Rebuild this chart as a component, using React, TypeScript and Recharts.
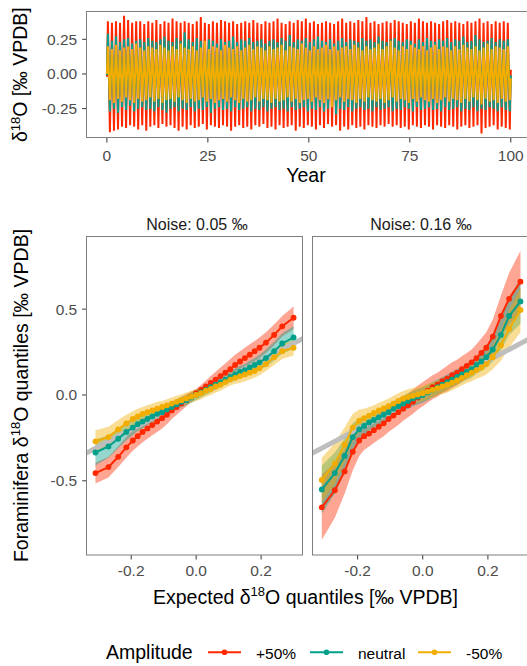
import React from 'react';
import { ComposedChart, LineChart, Line, Area, XAxis, YAxis } from 'recharts';

// colours (Darjeeling-like palette)
const RED = '#FF2800';
const TEAL = '#00A08A';
const YELLOW = '#F2AD00';
const FONT = '"Liberation Sans", Arial, sans-serif';

// ---- top panel: yearly cycle, peak and trough of every year ----
const redHi = [
  0.38, 0.37, 0.38, 0.37, 0.42, 0.39, 0.37, 0.38, 0.38, 0.36,
  0.38, 0.37, 0.39, 0.36, 0.38, 0.37, 0.40, 0.38, 0.37, 0.38,
  0.37, 0.36, 0.38, 0.41, 0.37, 0.36, 0.38, 0.37, 0.39, 0.38,
  0.37, 0.38, 0.36, 0.37, 0.38, 0.37, 0.39, 0.37, 0.36, 0.38,
  0.37, 0.38, 0.40, 0.37, 0.36, 0.38, 0.37, 0.39, 0.38, 0.40,
  0.37, 0.38, 0.36, 0.37, 0.38, 0.37, 0.36, 0.38, 0.40, 0.37,
  0.38, 0.37, 0.39, 0.38, 0.41, 0.37, 0.38, 0.36, 0.37, 0.38,
  0.37, 0.39, 0.38, 0.37, 0.36, 0.38, 0.37, 0.40, 0.38, 0.37,
  0.38, 0.37, 0.36, 0.38, 0.39, 0.37, 0.38, 0.37, 0.36, 0.38,
  0.37, 0.38, 0.40, 0.37, 0.38, 0.36, 0.38, 0.37, 0.38, 0.37,
];
const redLo = [
  -0.42, -0.41, -0.40, -0.38, -0.39, -0.37, -0.38, -0.40, -0.37, -0.41,
  -0.38, -0.37, -0.39, -0.36, -0.38, -0.37, -0.39, -0.41, -0.38, -0.40,
  -0.37, -0.39, -0.38, -0.36, -0.40, -0.37, -0.38, -0.39, -0.37, -0.38,
  -0.41, -0.38, -0.37, -0.39, -0.38, -0.40, -0.37, -0.38, -0.36, -0.39,
  -0.38, -0.40, -0.37, -0.39, -0.38, -0.37, -0.41, -0.38, -0.39, -0.37,
  -0.38, -0.40, -0.37, -0.39, -0.36, -0.38, -0.37, -0.41, -0.38, -0.40,
  -0.37, -0.39, -0.38, -0.40, -0.37, -0.38, -0.39, -0.37, -0.38, -0.36,
  -0.38, -0.37, -0.39, -0.38, -0.40, -0.37, -0.38, -0.39, -0.37, -0.38,
  -0.40, -0.37, -0.38, -0.39, -0.37, -0.38, -0.40, -0.38, -0.37, -0.39,
  -0.38, -0.37, -0.43, -0.39, -0.38, -0.37, -0.40, -0.38, -0.39, -0.40,
];
const tealHi = [
  0.29, 0.24, 0.27, 0.23, 0.25, 0.26, 0.22, 0.24, 0.25, 0.23,
  0.26, 0.24, 0.23, 0.25, 0.27, 0.24, 0.23, 0.26, 0.24, 0.30,
  0.25, 0.23, 0.26, 0.24, 0.23, 0.25, 0.24, 0.22, 0.25, 0.23,
  0.24, 0.27, 0.23, 0.25, 0.24, 0.26, 0.23, 0.24, 0.25, 0.22,
  0.24, 0.25, 0.23, 0.26, 0.24, 0.28, 0.23, 0.25, 0.24, 0.26,
  0.23, 0.25, 0.27, 0.24, 0.23, 0.25, 0.22, 0.24, 0.26, 0.23,
  0.25, 0.24, 0.23, 0.26, 0.24, 0.25, 0.23, 0.27, 0.24, 0.23,
  0.25, 0.26, 0.24, 0.23, 0.25, 0.24, 0.22, 0.25, 0.23, 0.26,
  0.24, 0.23, 0.25, 0.24, 0.26, 0.23, 0.25, 0.24, 0.27, 0.23,
  0.24, 0.28, 0.25, 0.23, 0.24, 0.26, 0.23, 0.25, 0.24, 0.25,
];
const tealLo = [
  -0.27, -0.25, -0.28, -0.24, -0.26, -0.23, -0.27, -0.25, -0.24, -0.26,
  -0.25, -0.27, -0.24, -0.26, -0.28, -0.25, -0.24, -0.27, -0.25, -0.26,
  -0.24, -0.27, -0.25, -0.26, -0.24, -0.28, -0.25, -0.24, -0.26, -0.25,
  -0.27, -0.24, -0.26, -0.25, -0.24, -0.27, -0.25, -0.26, -0.24, -0.27,
  -0.25, -0.24, -0.26, -0.25, -0.27, -0.24, -0.26, -0.25, -0.24, -0.27,
  -0.25, -0.26, -0.24, -0.27, -0.25, -0.24, -0.29, -0.25, -0.26, -0.24,
  -0.27, -0.25, -0.24, -0.26, -0.25, -0.27, -0.24, -0.26, -0.25, -0.24,
  -0.27, -0.25, -0.26, -0.24, -0.25, -0.27, -0.24, -0.26, -0.25, -0.24,
  -0.26, -0.25, -0.27, -0.24, -0.26, -0.25, -0.24, -0.27, -0.25, -0.26,
  -0.24, -0.27, -0.25, -0.26, -0.24, -0.25, -0.27, -0.24, -0.26, -0.27,
];
const yellowHi = [
  0.20, 0.18, 0.21, 0.17, 0.19, 0.20, 0.18, 0.22, 0.19, 0.17,
  0.20, 0.19, 0.18, 0.21, 0.19, 0.17, 0.20, 0.18, 0.22, 0.19,
  0.18, 0.20, 0.17, 0.19, 0.24, 0.18, 0.20, 0.19, 0.17, 0.21,
  0.19, 0.18, 0.20, 0.17, 0.19, 0.21, 0.18, 0.20, 0.19, 0.17,
  0.20, 0.18, 0.19, 0.21, 0.17, 0.20, 0.19, 0.18, 0.22, 0.19,
  0.17, 0.20, 0.18, 0.19, 0.21, 0.18, 0.20, 0.17, 0.19, 0.20,
  0.18, 0.21, 0.19, 0.17, 0.20, 0.18, 0.19, 0.22, 0.18, 0.20,
  0.24, 0.19, 0.17, 0.20, 0.18, 0.21, 0.19, 0.18, 0.20, 0.17,
  0.19, 0.21, 0.18, 0.20, 0.19, 0.17, 0.20, 0.18, 0.21, 0.19,
  0.18, 0.20, 0.17, 0.19, 0.22, 0.18, 0.20, 0.19, 0.18, 0.20,
];
const yellowLo = [
  -0.19, -0.21, -0.18, -0.20, -0.17, -0.19, -0.21, -0.18, -0.20, -0.19,
  -0.17, -0.20, -0.18, -0.21, -0.19, -0.18, -0.20, -0.17, -0.19, -0.21,
  -0.18, -0.20, -0.19, -0.17, -0.20, -0.18, -0.21, -0.19, -0.18, -0.20,
  -0.17, -0.19, -0.21, -0.18, -0.20, -0.19, -0.17, -0.20, -0.18, -0.19,
  -0.21, -0.18, -0.20, -0.19, -0.17, -0.20, -0.18, -0.21, -0.19, -0.18,
  -0.20, -0.17, -0.19, -0.21, -0.18, -0.24, -0.19, -0.17, -0.20, -0.18,
  -0.19, -0.21, -0.18, -0.20, -0.17, -0.19, -0.20, -0.18, -0.21, -0.19,
  -0.17, -0.20, -0.18, -0.19, -0.21, -0.18, -0.20, -0.17, -0.19, -0.20,
  -0.18, -0.21, -0.19, -0.17, -0.20, -0.18, -0.19, -0.21, -0.18, -0.20,
  -0.17, -0.19, -0.22, -0.18, -0.20, -0.19, -0.21, -0.18, -0.20, -0.19,
];
// first (year 0) and last (year 100) values: red, teal, yellow
const startVals = [-0.02, -0.01, 0.0];
const endVals = [0.03, -0.01, -0.03];

// ---- bottom panels: expected quantiles vs foraminifera quantiles ----
const qx = [
  -0.31, -0.27, -0.24, -0.215, -0.195, -0.18, -0.165, -0.15, -0.135, -0.12, -0.105, -0.09,
  -0.075, -0.06, -0.045, -0.03, -0.015, 0, 0.015, 0.03, 0.045, 0.06, 0.075, 0.09, 0.105,
  0.12, 0.135, 0.15, 0.165, 0.18, 0.195, 0.215, 0.24, 0.265, 0.3,
];
// noise 0.05
const redQ1 = [
  -0.455, -0.42, -0.36, -0.305, -0.265, -0.24, -0.215, -0.195, -0.175, -0.155, -0.135, -0.115,
  -0.09, -0.07, -0.05, -0.03, -0.01, 0.01, 0.03, 0.05, 0.07, 0.09, 0.11, 0.13, 0.15,
  0.175, 0.195, 0.215, 0.235, 0.255, 0.275, 0.305, 0.35, 0.4, 0.45,
];
const tealQ1 = [
  -0.335, -0.3, -0.255, -0.215, -0.19, -0.17, -0.155, -0.14, -0.125, -0.11, -0.1, -0.085,
  -0.07, -0.055, -0.04, -0.03, -0.015, 0, 0.015, 0.03, 0.045, 0.06, 0.075, 0.09, 0.105,
  0.12, 0.135, 0.145, 0.16, 0.175, 0.19, 0.215, 0.255, 0.3, 0.335,
];
const yellowQ1 = [
  -0.27, -0.245, -0.2, -0.165, -0.14, -0.125, -0.11, -0.1, -0.09, -0.08, -0.07, -0.06,
  -0.05, -0.04, -0.03, -0.02, -0.01, 0, 0.01, 0.025, 0.035, 0.05, 0.06, 0.075, 0.09,
  0.1, 0.11, 0.12, 0.13, 0.14, 0.155, 0.18, 0.22, 0.255, 0.275,
];
const redBand1 = [
  0.06, 0.06, 0.06, 0.06, 0.06, 0.06, 0.06, 0.06, 0.06, 0.06, 0.06, 0.055,
  0.05, 0.045, 0.04, 0.035, 0.03, 0.025, 0.03, 0.035, 0.04, 0.045, 0.05, 0.055, 0.06,
  0.06, 0.06, 0.06, 0.06, 0.06, 0.06, 0.06, 0.06, 0.06, 0.065,
];
const tealBand1 = [
  0.075, 0.065, 0.055, 0.05, 0.045, 0.04, 0.04, 0.035, 0.035, 0.035, 0.03, 0.03,
  0.03, 0.03, 0.03, 0.03, 0.03, 0.03, 0.03, 0.03, 0.03, 0.03, 0.03, 0.03, 0.03,
  0.035, 0.035, 0.035, 0.04, 0.04, 0.045, 0.05, 0.055, 0.06, 0.065,
];
const yellowBand1 = [
  0.065, 0.06, 0.055, 0.05, 0.045, 0.045, 0.04, 0.04, 0.04, 0.04, 0.035, 0.035,
  0.035, 0.035, 0.035, 0.035, 0.035, 0.035, 0.035, 0.035, 0.035, 0.035, 0.035, 0.035, 0.035,
  0.035, 0.04, 0.04, 0.04, 0.04, 0.04, 0.04, 0.045, 0.045, 0.045,
];
// noise 0.16
const redQ2 = [
  -0.655, -0.555, -0.445, -0.33, -0.265, -0.24, -0.225, -0.205, -0.185, -0.165, -0.14, -0.12,
  -0.1, -0.08, -0.06, -0.04, -0.015, 0.005, 0.025, 0.045, 0.06, 0.08, 0.095, 0.115, 0.13,
  0.15, 0.17, 0.19, 0.215, 0.245, 0.275, 0.34, 0.46, 0.56, 0.66,
];
const tealQ2 = [
  -0.55, -0.455, -0.355, -0.245, -0.2, -0.18, -0.16, -0.145, -0.13, -0.115, -0.1, -0.08,
  -0.065, -0.05, -0.035, -0.02, -0.01, 0, 0.015, 0.03, 0.045, 0.06, 0.075, 0.09, 0.105,
  0.12, 0.135, 0.15, 0.175, 0.195, 0.22, 0.265, 0.35, 0.46, 0.545,
];
const yellowQ2 = [
  -0.495, -0.4, -0.29, -0.19, -0.15, -0.135, -0.12, -0.105, -0.09, -0.078, -0.065, -0.05,
  -0.035, -0.022, -0.012, -0.005, 0.003, 0.01, 0.02, 0.03, 0.04, 0.05, 0.06, 0.072, 0.085,
  0.1, 0.115, 0.13, 0.145, 0.16, 0.18, 0.22, 0.29, 0.385, 0.495,
];
const redBand2 = [
  0.19, 0.16, 0.13, 0.11, 0.09, 0.08, 0.075, 0.075, 0.075, 0.075, 0.075, 0.075,
  0.075, 0.07, 0.07, 0.07, 0.07, 0.07, 0.07, 0.07, 0.07, 0.07, 0.075, 0.075, 0.075,
  0.075, 0.075, 0.075, 0.08, 0.085, 0.09, 0.1, 0.12, 0.15, 0.18,
];
const tealBand2 = [
  0.14, 0.12, 0.1, 0.08, 0.065, 0.055, 0.05, 0.045, 0.045, 0.045, 0.045, 0.045,
  0.045, 0.045, 0.045, 0.045, 0.045, 0.045, 0.045, 0.045, 0.045, 0.045, 0.045, 0.045, 0.045,
  0.045, 0.045, 0.05, 0.05, 0.055, 0.06, 0.07, 0.09, 0.11, 0.13,
];
const yellowBand2 = [
  0.13, 0.12, 0.1, 0.08, 0.065, 0.055, 0.05, 0.045, 0.045, 0.045, 0.045, 0.045,
  0.045, 0.045, 0.045, 0.045, 0.045, 0.045, 0.045, 0.045, 0.045, 0.045, 0.045, 0.045, 0.045,
  0.045, 0.045, 0.05, 0.05, 0.055, 0.06, 0.07, 0.09, 0.11, 0.13,
];
// 1:1 reference line ends
const oneToOneX = [-0.34, 0.34];

const legendItems = [
  { label: '+50%', color: RED },
  { label: 'neutral', color: TEAL },
  { label: '-50%', color: YELLOW },
];

// build the time series rows (peak then trough each year)
const tsRows: any[] = [{ year: 0, red: startVals[0], teal: startVals[1], yellow: startVals[2] }];
redHi.forEach((_, i) => {
  tsRows.push({ year: i + 0.25, red: redHi[i], teal: tealHi[i], yellow: yellowHi[i] });
  tsRows.push({ year: i + 0.75, red: redLo[i], teal: tealLo[i], yellow: yellowLo[i] });
});
tsRows.push({ year: 100, red: endVals[0], teal: endVals[1], yellow: endVals[2] });

const qqRows = (r: number[], t: number[], y: number[], rb: number[], tb: number[], yb: number[]) =>
  qx.map((x, i) => ({
    x,
    red: r[i], teal: t[i], yellow: y[i],
    redBand: [r[i] - rb[i], r[i] + rb[i]],
    tealBand: [t[i] - tb[i], t[i] + tb[i]],
    yellowBand: [y[i] - yb[i], y[i] + yb[i]],
  }));
const rowsLow = qqRows(redQ1, tealQ1, yellowQ1, redBand1, tealBand1, yellowBand1);
const rowsHigh = qqRows(redQ2, tealQ2, yellowQ2, redBand2, tealBand2, yellowBand2);
const identityRows = oneToOneX.map((x) => ({ x, one: x }));

const tickStyle = { fill: '#4D4D4D', fontSize: 15.5, fontFamily: FONT };
const tickLine = { stroke: '#333333' };

const QQPanel = ({ rows, left, width, showY }: any) => (
  <div style={{ position: 'absolute', left, top: 236 }}>
    <ComposedChart width={width} height={359} data={rows} margin={{ top: 0, right: 0, bottom: 0, left: 0 }}>
      <XAxis type="number" dataKey="x" domain={[-0.337, 0.328]} ticks={[-0.2, 0, 0.2]} allowDataOverflow
        tickFormatter={(v: number) => v.toFixed(1)} axisLine={false} tickLine={tickLine} tickSize={4.5}
        tickMargin={6} tick={tickStyle} height={40} />
      <YAxis type="number" domain={[-0.932, 0.926]} ticks={[-0.5, 0, 0.5]} allowDataOverflow hide={!showY}
        tickFormatter={(v: number) => v.toFixed(1)} axisLine={false} tickLine={tickLine} tickSize={4.5}
        tickMargin={5} tick={tickStyle} width={86.7} />
      <Line data={identityRows} dataKey="one" stroke="#BEBEBE" strokeWidth={5} dot={false} isAnimationActive={false} />
      <Area type="linear" dataKey="redBand" fill={RED} fillOpacity={0.42} stroke="none" isAnimationActive={false} />
      <Area type="linear" dataKey="tealBand" fill={TEAL} fillOpacity={0.42} stroke="none" isAnimationActive={false} />
      <Area type="linear" dataKey="yellowBand" fill={YELLOW} fillOpacity={0.42} stroke="none" isAnimationActive={false} />
      <Line type="linear" dataKey="red" stroke={RED} strokeWidth={2} dot={{ r: 2.9, fill: RED, stroke: RED, strokeWidth: 0 }} isAnimationActive={false} />
      <Line type="linear" dataKey="teal" stroke={TEAL} strokeWidth={2} dot={{ r: 2.9, fill: TEAL, stroke: TEAL, strokeWidth: 0 }} isAnimationActive={false} />
      <Line type="linear" dataKey="yellow" stroke={YELLOW} strokeWidth={2} dot={{ r: 2.9, fill: YELLOW, stroke: YELLOW, strokeWidth: 0 }} isAnimationActive={false} />
    </ComposedChart>
  </div>
);

export default function App() {
  return (
    <div style={{ position: 'absolute', left: 0, top: 0, width: 527, height: 666, overflow: 'hidden', background: '#fff', fontFamily: FONT }}>
      {/* top time series */}
      <div style={{ position: 'absolute', left: 0, top: 11.7 }}>
        <LineChart width={531} height={166} data={tsRows} margin={{ top: 0, right: 0, bottom: 0, left: 0 }}>
          <XAxis type="number" dataKey="year" domain={[-5, 105]} ticks={[0, 25, 50, 75, 100]} allowDataOverflow
            axisLine={false} tickLine={tickLine} tickSize={4.5} tickMargin={7} tick={tickStyle} height={40} />
          <YAxis type="number" domain={[-0.462, 0.447]} ticks={[-0.25, 0, 0.25]} allowDataOverflow
            tickFormatter={(v: number) => v.toFixed(2)} axisLine={false} tickLine={tickLine} tickSize={4.5}
            tickMargin={5} tick={tickStyle} width={86.7} />
          <Line type="linear" dataKey="red" stroke={RED} strokeWidth={2} dot={false} isAnimationActive={false} />
          <Line type="linear" dataKey="teal" stroke={TEAL} strokeWidth={2} dot={false} isAnimationActive={false} />
          <Line type="linear" dataKey="yellow" stroke={YELLOW} strokeWidth={2} dot={false} isAnimationActive={false} />
        </LineChart>
      </div>

      <QQPanel rows={rowsLow} left={0} width={302.7} showY />
      <QQPanel rows={rowsHigh} left={312.7} width={216.6} showY={false} />

      <svg width={527} height={666} style={{ position: 'absolute', left: 0, top: 0, pointerEvents: 'none' }} fontFamily={FONT}>
        <g fill="none" stroke="#7F7F7F" strokeWidth={1}>
          <rect x={86.5} y={11.5} width={446} height={126} />
          <rect x={86.5} y={236.5} width={216} height={318.5} />
          <rect x={312.5} y={236.5} width={217} height={318.5} />
        </g>
        <g fill="#1A1A1A" fontSize={16} textAnchor="middle">
          <text x={197} y={230.3}>Noise: 0.05 ‰</text>
          <text x={421} y={230.3}>Noise: 0.16 ‰</text>
        </g>
        <g fill="#000" fontSize={19.5} textAnchor="middle">
          <text x={27.5} y={74.7} transform="rotate(-90 27.5 74.7)">
            δ<tspan dy={-7.5} fontSize={13}>18</tspan><tspan dy={7.5}>O [‰ VPDB]</tspan>
          </text>
          <text x={306} y={182}>Year</text>
          <text x={27.5} y={395.5} transform="rotate(-90 27.5 395.5)">
            Foraminifera δ<tspan dy={-7.5} fontSize={13}>18</tspan><tspan dy={7.5}>O quantiles [‰ VPDB]</tspan>
          </text>
          <text x={305.5} y={603.5}>
            Expected δ<tspan dy={-7.5} fontSize={13}>18</tspan><tspan dy={7.5}>O quantiles [‰ VPDB]</tspan>
          </text>
        </g>
        <text x={106} y={659} fontSize={19.5} fill="#000">Amplitude</text>
        {legendItems.map((it, i) => {
          const kx = [208, 310, 418][i];
          return (
            <g key={it.label}>
              <line x1={kx} x2={kx + 33} y1={652.3} y2={652.3} stroke={it.color} strokeWidth={2} />
              <circle cx={kx + 16.5} cy={652.3} r={2.8} fill={it.color} />
              <text x={kx + 48} y={658.5} fontSize={15.5} fill="#000">{it.label}</text>
            </g>
          );
        })}
      </svg>
    </div>
  );
}
